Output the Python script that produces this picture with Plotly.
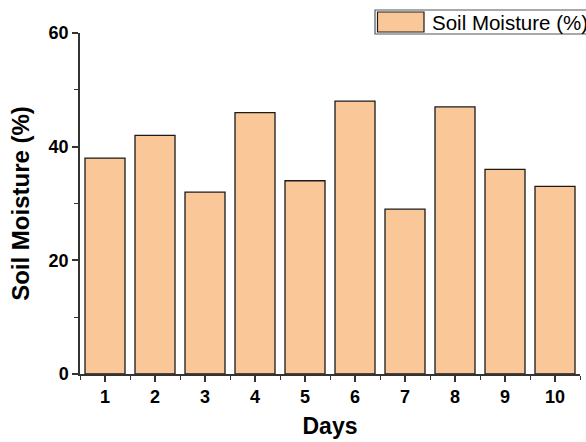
import plotly.graph_objects as go

days = [1, 2, 3, 4, 5, 6, 7, 8, 9, 10]
moisture = [38, 42, 32, 46, 34, 48, 29, 47, 36, 33]
x_tick_labels = [str(d) for d in days]
y_ticks = [0, 20, 40, 60]
series_name = "Soil Moisture (%)"
x_title = "Days"
y_title = "Soil Moisture (%)"

bar_color = "#FAC898"
edge_color = "#1a1a1a"
axis_color = "#333333"
font_family = "Liberation Sans, Arial, sans-serif"

fig = go.Figure()
fig.add_trace(go.Bar(
    x=days, y=moisture, name=series_name,
    marker=dict(color=bar_color, line=dict(color=edge_color, width=1.3)),
    width=0.8, showlegend=False,
))

# Legend drawn as box (it runs off the right edge in the reference)
L, T, B = 375, 10, 34
W, H = 586, 442
ml, mr, mt, mb = 80, 6, 33, 68
pw, ph = W - ml - mr, H - mt - mb
def px(x):
    return (x - ml) / pw
def py(y):
    return (H - mb - y) / ph

fig.add_shape(type="rect", xref="paper", yref="paper",
              x0=px(L), x1=px(640), y0=py(B), y1=py(T),
              line=dict(color="#555555", width=1.2), fillcolor="white", layer="above")
fig.add_shape(type="rect", xref="paper", yref="paper",
              x0=px(377.5), x1=px(424), y0=py(32), y1=py(12),
              line=dict(color=edge_color, width=1.2), fillcolor=bar_color, layer="above")
fig.add_annotation(xref="paper", yref="paper", x=px(430), y=py(22.5),
                   xanchor="left", yanchor="middle", showarrow=False,
                   text=series_name,
                   font=dict(family=font_family, size=20.5, color="black"))

fig.update_layout(
    width=W, height=H,
    margin=dict(l=ml, r=mr, t=mt, b=mb, autoexpand=False),
    plot_bgcolor="white", paper_bgcolor="white",
    font=dict(family=font_family, color="black"),
    bargap=0.2,
)
fig.update_xaxes(
    range=[0.5, 10.5], tickmode="array", tickvals=days, ticktext=x_tick_labels,
    showline=True, linecolor=axis_color, linewidth=1.5,
    ticks="outside", ticklen=6, tickwidth=1.5, tickcolor=axis_color,
    minor=dict(ticks="outside", ticklen=4, tickwidth=1.3, tickcolor=axis_color,
               tickmode="linear", tick0=0.5, dtick=1),
    showgrid=False, zeroline=False,
    tickfont=dict(family=font_family, size=18, color="black", weight="bold"),
    title=dict(text="<b>" + x_title + "</b>", font=dict(family=font_family, size=23), standoff=12),
)
fig.update_yaxes(
    range=[0, 60], tickmode="array", tickvals=y_ticks,
    showline=True, linecolor=axis_color, linewidth=1.5,
    ticks="outside", ticklen=6, tickwidth=1.5, tickcolor=axis_color,
    minor=dict(ticks="outside", ticklen=4, tickwidth=1.3, tickcolor=axis_color,
               tickmode="linear", tick0=10, dtick=20),
    showgrid=False, zeroline=False,
    tickfont=dict(family=font_family, size=18, color="black", weight="bold"),
    title=dict(text="<b>" + y_title + "</b>", font=dict(family=font_family, size=24), standoff=12),
)

fig.write_html(
    "out.html",
    config={"displayModeBar": False},
    post_script="document.body.style.margin='0';document.body.style.overflow='hidden';",
)
